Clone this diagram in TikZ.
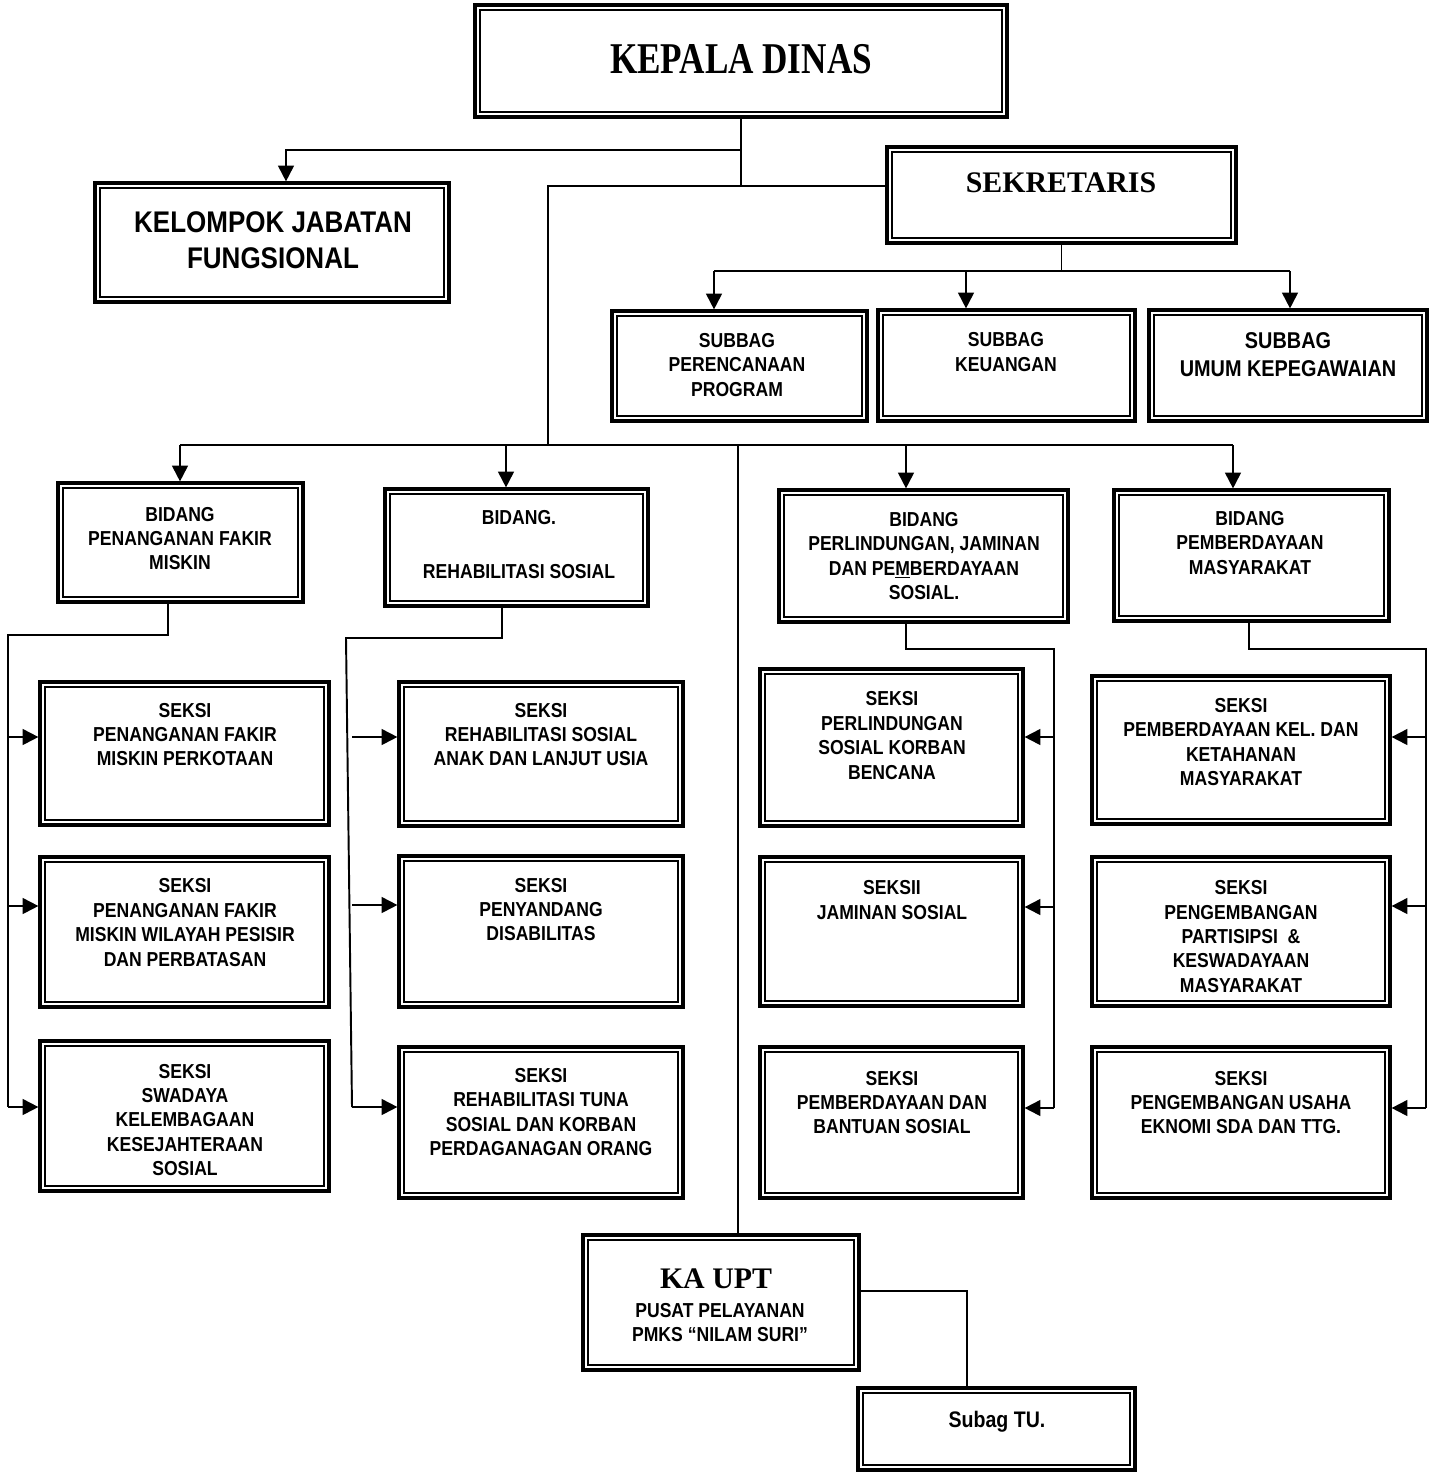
\documentclass[tikz,border=0pt]{standalone}
\usepackage{fontspec}
\setmainfont{Liberation Sans}
\newfontfamily\narrowsf[FakeStretch=0.87]{Liberation Sans}
\newfontfamily\titlerm[FakeStretch=0.8]{Liberation Serif}
\newfontfamily\headrm{Liberation Serif}
\usetikzlibrary{arrows.meta}

\tikzset{
  orgbox/.style={draw, line width=1.8pt, inner sep=0pt,
    path picture={\draw[line width=1.2pt]
      ([shift={(2.9pt,2.9pt)}]path picture bounding box.south west) rectangle
      ([shift={(-2.9pt,-2.9pt)}]path picture bounding box.north east);}},
  sz/.style 2 args={minimum width=#1*0.02cm, minimum height=#2*0.02cm},
  lbl/.style={align=center, inner sep=0pt, font=\narrowsf\bfseries\fontsize{11.5}{13.9}\selectfont},
  ln/.style={line width=1.1pt},
  arr/.style={line width=1.1pt, -{Triangle[length=9pt,width=9pt]}},
}

\begin{document}
\begin{tikzpicture}[x=0.02cm,y=-0.02cm]
 \useasboundingbox (0,0) rectangle (1430,1474);
 % pimpinan dan sekretariat
 \node[orgbox,sz={532}{112}] (kepala) at (741,61) {};
 \node[inner sep=0pt,font=\titlerm\bfseries\fontsize{25}{28}\selectfont] (kepalaT) at (741,59) {KEPALA DINAS};
 \node[orgbox,sz={354}{119}] (kjf) at (272,242.5) {};
 \node[lbl,font=\narrowsf\bfseries\fontsize{17}{20.4}\selectfont] (kjfT) at (273,240) {KELOMPOK JABATAN\\FUNGSIONAL};
 \node[orgbox,sz={349}{96}] (sek) at (1061.5,195) {};
 \node[inner sep=0pt,font=\headrm\bfseries\fontsize{17}{20}\selectfont] (sekT) at (1061,183) {SEKRETARIS};
 %
 \node[orgbox,sz={255}{110}] (sp1) at (739.5,366) {};
 \node[lbl] (sp1T) at (737,365) {SUBBAG\\PERENCANAAN\\PROGRAM};
 \node[orgbox,sz={257}{111}] (sp2) at (1006.5,365.5) {};
 \node[lbl] (sp2T) at (1006,352) {SUBBAG\\KEUANGAN};
 \node[orgbox,sz={278}{111}] (sp3) at (1288,365.5) {};
 \node[lbl,font=\narrowsf\bfseries\fontsize{13}{15.9}\selectfont] (sp3T) at (1288,355) {SUBBAG\\UMUM KEPEGAWAIAN};
 % bidang
 \node[orgbox,sz={245}{119}] (b1) at (180.5,542.5) {};
 \node[lbl] (b1T) at (180,538.5) {BIDANG\\PENANGANAN FAKIR\\MISKIN};
 \node[orgbox,sz={263}{117}] (b2) at (516.5,547.5) {};
 \node[lbl] (b2T) at (519,544.5) {BIDANG.\\[17pt]REHABILITASI SOSIAL};
 \node[orgbox,sz={289}{132}] (b3) at (923.5,556) {};
 \node[lbl] (b3T) at (924,556) {BIDANG\\PERLINDUNGAN, JAMINAN\\DAN PE\underline{M}BERDAYAAN\\SOSIAL.};
 \node[orgbox,sz={275}{131}] (b4) at (1251.5,555.5) {};
 \node[lbl] (b4T) at (1250,543) {BIDANG\\PEMBERDAYAAN\\MASYARAKAT};
 % seksi
 \node[orgbox,sz={289}{143}] (s11) at (184.5,753.5) {};
 \node[lbl] (s11T) at (185,734.5) {SEKSI\\PENANGANAN FAKIR\\MISKIN PERKOTAAN};
 \node[orgbox,sz={289}{150}] (s12) at (184.5,932) {};
 \node[lbl] (s12T) at (185,922.5) {SEKSI\\PENANGANAN FAKIR\\MISKIN WILAYAH PESISIR\\DAN PERBATASAN};
 \node[orgbox,sz={289}{150}] (s13) at (184.5,1116) {};
 \node[lbl] (s13T) at (185,1120) {SEKSI\\SWADAYA\\KELEMBAGAAN\\KESEJAHTERAAN\\SOSIAL};
 %
 \node[orgbox,sz={284}{144}] (s21) at (541,754) {};
 \node[lbl] (s21T) at (541,734.5) {SEKSI\\REHABILITASI SOSIAL\\ANAK DAN LANJUT USIA};
 \node[orgbox,sz={284}{151}] (s22) at (541,931.5) {};
 \node[lbl] (s22T) at (541,909.5) {SEKSI\\PENYANDANG\\DISABILITAS};
 \node[orgbox,sz={284}{151}] (s23) at (541,1122.5) {};
 \node[lbl] (s23T) at (541,1112) {SEKSI\\REHABILITASI TUNA\\SOSIAL DAN KORBAN\\PERDAGANAGAN ORANG};
 %
 \node[orgbox,sz={263}{157}] (s31) at (891.5,747.5) {};
 \node[lbl] (s31T) at (892,735.5) {SEKSI\\PERLINDUNGAN\\SOSIAL KORBAN\\BENCANA};
 \node[orgbox,sz={263}{149}] (s32) at (891.5,931.5) {};
 \node[lbl] (s32T) at (892,900) {SEKSII\\JAMINAN SOSIAL};
 \node[orgbox,sz={263}{151}] (s33) at (891.5,1122.5) {};
 \node[lbl] (s33T) at (892,1102.5) {SEKSI\\PEMBERDAYAAN DAN\\BANTUAN SOSIAL};
 %
 \node[orgbox,sz={298}{148}] (s41) at (1241,750) {};
 \node[lbl] (s41T) at (1241,742) {SEKSI\\PEMBERDAYAAN KEL. DAN\\KETAHANAN\\MASYARAKAT};
 \node[orgbox,sz={298}{149}] (s42) at (1241,931.5) {};
 \node[lbl] (s42T) at (1241,936.5) {SEKSI\\PENGEMBANGAN\\PARTISIPSI~~\&\\KESWADAYAAN\\MASYARAKAT};
 \node[orgbox,sz={298}{151}] (s43) at (1241,1122.5) {};
 \node[lbl] (s43T) at (1241,1102.5) {SEKSI\\PENGEMBANGAN USAHA\\EKNOMI SDA DAN TTG.};
 % upt
 \node[orgbox,sz={276}{135}] (upt) at (721,1302.5) {};
 \node[inner sep=0pt,font=\headrm\bfseries\fontsize{17}{20}\selectfont] (uptA) at (716,1279) {KA UPT};
 \node[lbl] (uptB) at (720,1322.5) {PUSAT PELAYANAN\\PMKS “NILAM SURI”};
 \node[orgbox,sz={277}{82}] (tu) at (996.5,1429) {};
 \node[lbl,font=\narrowsf\bfseries\fontsize{12.8}{15}\selectfont] (tuT) at (997,1422) {Subag TU.};
 %
 % garis komando
 \coordinate (kj) at (286,150);
 \coordinate (tk) at (548,186);
 \coordinate (bus) at (180,445);
 \coordinate (busr) at (1233,445);
 \coordinate (a2) at (506,445);
 \coordinate (a3) at (906,445);
 \coordinate (a5) at (738,445);
 \draw[ln] (kepala.south) -- (kepala.south |- tk);
 \draw[arr] (kepala.south |- kj) -- (kj) -- (kj |- kjf.north);
 \draw[ln] (sek.west |- tk) -- (tk) -- (tk |- bus);
 \draw[ln] (bus) -- (busr);
 \foreach \c/\n in {bus/b1,a2/b2,a3/b3,busr/b4} \draw[arr] (\c) -- (\c |- \n.north);
 \draw[ln] (a5) -- (a5 |- upt.north);
 %
 \coordinate (sl) at (714,271);
 \coordinate (sm) at (966,271);
 \coordinate (sr) at (1290,271);
 \draw[ln] (sek.south) -- (sek.south |- sl);
 \draw[ln] (sl) -- (sr);
 \foreach \c/\n in {sl/sp1,sm/sp2,sr/sp3} \draw[arr] (\c) -- (\c |- \n.north);
 %
 \coordinate (f1) at (168,635);
 \coordinate (l1) at (8,1107);
 \draw[ln] (f1 |- b1.south) -- (f1) -| (l1);
 \foreach \y/\n in {737/s11,906/s12,1107/s13} {\coordinate (t) at (8,\y); \draw[arr] (t) -- (t -| \n.west);}
 %
 \coordinate (f2) at (502,638);
 \coordinate (v2) at (346,638);
 \coordinate (l2) at (352,1107);
 \draw[ln] (f2 |- b2.south) -- (f2) -- (v2) -- (l2);
 \foreach \y/\n in {737/s21,905/s22,1107/s23} {\coordinate (t) at (352,\y); \draw[arr] (t) -- (t -| \n.west);}
 %
 \coordinate (f3) at (906,649);
 \coordinate (r3) at (1054,1108);
 \draw[ln] (f3 |- b3.south) -- (f3) -| (r3);
 \foreach \y/\n in {737/s31,907/s32,1108/s33} {\coordinate (t) at (1054,\y); \draw[arr] (t) -- (t -| \n.east);}
 %
 \coordinate (f4) at (1249,649);
 \coordinate (r4) at (1426,1108);
 \draw[ln] (f4 |- b4.south) -- (f4) -| (r4);
 \foreach \y/\n in {737/s41,906/s42,1108/s43} {\coordinate (t) at (1426,\y); \draw[arr] (t) -- (t -| \n.east);}
 %
 \coordinate (u) at (967,1291);
 \draw[ln] (u -| upt.east) -- (u) -- (u |- tu.north);
\end{tikzpicture}
\end{document}
